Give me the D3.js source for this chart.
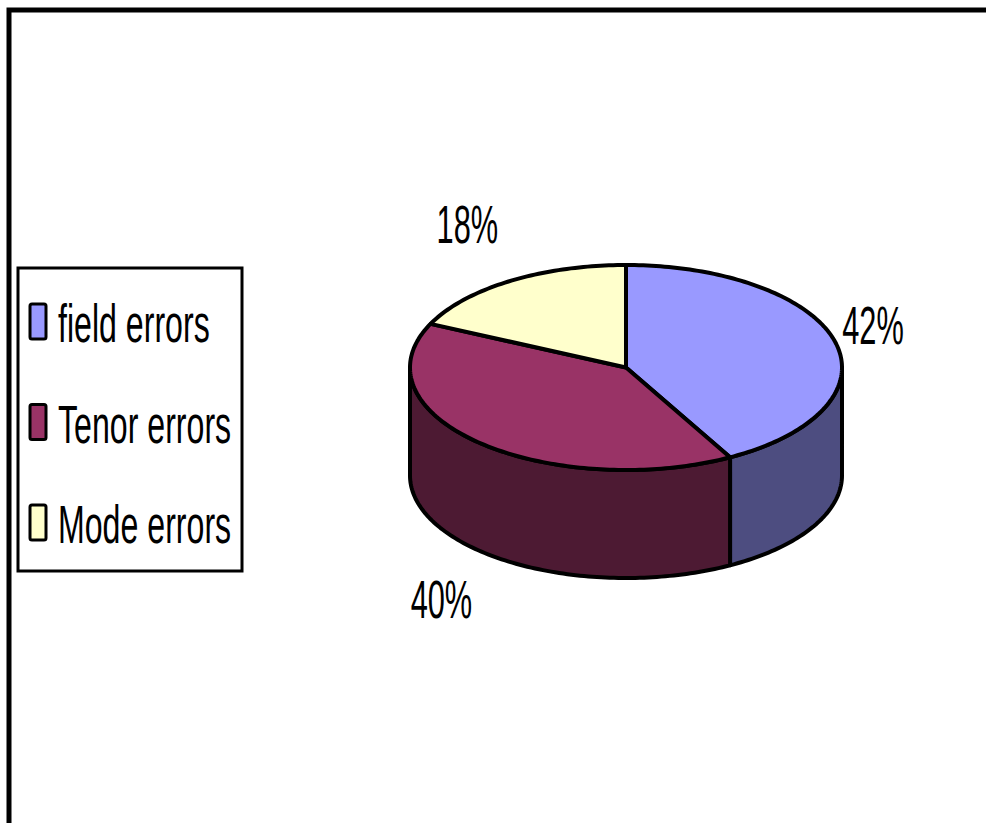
<!DOCTYPE html>
<html>
<head>
<meta charset="utf-8">
<script src="https://cdn.jsdelivr.net/npm/d3@7"></script>
<style>
html,body{margin:0;padding:0;background:#fff;}
svg{display:block;}
text{font-family:"Liberation Sans",Arial,sans-serif;fill:#000;}
</style>
</head>
<body>
<svg id="chart" width="986" height="823"></svg>
<script>
// ---- data ----
const categories = ["field errors", "Tenor errors", "Mode errors"];
const values = [42, 40, 18];
const labels = ["42%", "40%", "18%"];
const topColors = ["#9999FF", "#993366", "#FFFFCC"];
const sideColors = ["#4D4D80", "#4D1A33", "#808066"];

// ---- layout ----
const W = 986, H = 823;
const cx = 626, cy = 367.5, rx = 216, ry = 102.5, depth = 108;
const fontSize = 54, squeeze = 0.57, legSqueeze = 0.595;

const svg = d3.select("#chart");

// frame
svg.append("path")
  .attr("d", `M9,${H + 5} L9,10 L${W + 5},10`)
  .attr("fill", "none").attr("stroke", "#000").attr("stroke-width", 5);

const pie = d3.pie().sort(null).value(d => d).startAngle(0).endAngle(2 * Math.PI);
const arcs = pie(values);

const px = a => cx + rx * Math.sin(a);
const py = a => cy - ry * Math.cos(a);

function ellArc(a0, a1, dy) {
  const n = Math.max(2, Math.ceil(Math.abs(a1 - a0) / 0.02));
  const pts = [];
  for (let i = 0; i <= n; i++) {
    const a = a0 + (a1 - a0) * i / n;
    pts.push([px(a), py(a) + dy]);
  }
  return pts;
}

const line = d3.line();
const g = svg.append("g");

// side walls (front half: angles pi/2 .. 3pi/2)
arcs.forEach((d, i) => {
  const a0 = Math.max(d.startAngle, Math.PI / 2);
  const a1 = Math.min(d.endAngle, 3 * Math.PI / 2);
  if (a1 <= a0) return;
  const top = ellArc(a0, a1, 0);
  const bot = ellArc(a1, a0, depth);
  g.append("path")
    .attr("d", line(top.concat(bot)) + "Z")
    .attr("fill", sideColors[i])
    .attr("stroke", "#000").attr("stroke-width", 4).attr("stroke-linejoin", "round");
});

// top faces
arcs.forEach((d, i) => {
  const pts = [[cx, cy]].concat(ellArc(d.startAngle, d.endAngle, 0));
  g.append("path")
    .attr("d", line(pts) + "Z")
    .attr("fill", topColors[i])
    .attr("stroke", "#000").attr("stroke-width", 4).attr("stroke-linejoin", "round");
});

// data labels
const lrx = 255, lry = 170;
arcs.forEach((d, i) => {
  const m = (d.startAngle + d.endAngle) / 2;
  let x = cx + lrx * Math.sin(m);
  let y = cy - lry * Math.cos(m);
  if (Math.cos(m) < 0) y += depth;
  if (Math.sin(m) < 0) x -= 10;
  if (Math.cos(m) > 0 && Math.sin(m) < 0) x -= 12;
  svg.append("text")
    .attr("transform", `translate(${x},${y + 19}) scale(${squeeze},1)`)
    .attr("text-anchor", "middle")
    .attr("font-size", fontSize)
    .text(labels[i]);
});

// legend
const leg = svg.append("g");
leg.append("rect")
  .attr("x", 18).attr("y", 268).attr("width", 224).attr("height", 303)
  .attr("fill", "#fff").attr("stroke", "#000").attr("stroke-width", 3);
categories.forEach((c, i) => {
  const base = 342 + i * 100.5;
  leg.append("rect")
    .attr("x", 30).attr("y", base - 38).attr("width", 16).attr("height", 35)
    .attr("rx", 2)
    .attr("fill", topColors[i]).attr("stroke", "#000").attr("stroke-width", 3);
  leg.append("text")
    .attr("transform", `translate(58,${base}) scale(${legSqueeze},1)`)
    .attr("font-size", fontSize)
    .text(c);
});
</script>
</body>
</html>
